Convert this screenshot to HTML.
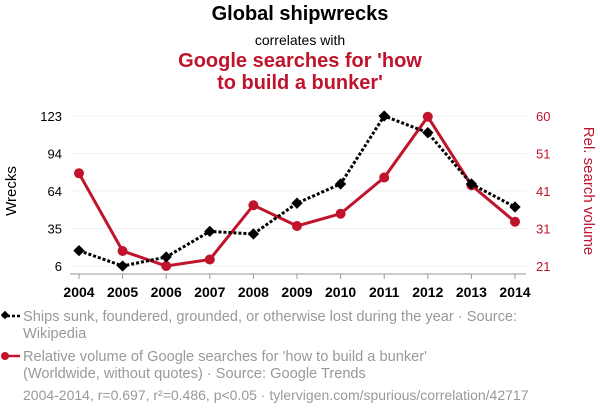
<!DOCTYPE html>
<html><head><meta charset="utf-8"><style>
body{margin:0;width:600px;height:414px;background:#fff;font-family:"Liberation Sans",sans-serif;overflow:hidden}
</style></head><body>
<svg width="600" height="414" xmlns="http://www.w3.org/2000/svg" font-family="Liberation Sans, sans-serif">
<text x="300" y="20" text-anchor="middle" font-size="20" font-weight="bold" fill="#000">Global shipwrecks</text>
<text x="300" y="45" text-anchor="middle" font-size="14" fill="#000">correlates with</text>
<text x="300" y="67" text-anchor="middle" font-size="20" font-weight="bold" fill="#c0142c">Google searches for 'how</text>
<text x="300" y="89" text-anchor="middle" font-size="20" font-weight="bold" fill="#c0142c">to build a bunker'</text>
<g id="plot"></g>
<g font-size="14.6" fill="#999">
<line x1="2" y1="316" x2="20" y2="316" stroke="#000" stroke-width="2.5" stroke-dasharray="3,2"/>
<rect x="2" y="312" width="6" height="6" transform="rotate(45 5 315)" fill="#000"/>
<text x="23" y="321">Ships sunk, foundered, grounded, or otherwise lost during the year · Source:</text>
<text x="23" y="338">Wikipedia</text>
<line x1="2" y1="356" x2="20" y2="356" stroke="#c0142c" stroke-width="2.5"/>
<circle cx="5" cy="356" r="4" fill="#c0142c"/>
<text x="23" y="361">Relative volume of Google searches for 'how to build a bunker'</text>
<text x="23" y="378">(Worldwide, without quotes) · Source: Google Trends</text>
<text x="23" y="400" font-size="14">2004-2014, r=0.697, r²=0.486, p&lt;0.05 · tylervigen.com/spurious/correlation/42717</text>
</g>
</svg>
<script>
const years=[2004,2005,2006,2007,2008,2009,2010,2011,2012,2013,2014];
const wrecks=[18,6,13,33,31,55,70,123,110,70,52];
const searches=[45.1,24.9,21,22.7,36.8,31.4,34.6,44,59.8,42,32.5];
const leftTicks=[6,35,64,94,123];
const rightTicks=[21,31,41,51,60];
const NS="http://www.w3.org/2000/svg";
const g=document.getElementById('plot');
const x0=79,x1=515,yTop=116,yBot=266;
const xs=i=>x0+(x1-x0)*i/(years.length-1);
const yl=v=>yBot-(v-6)/(123-6)*(yBot-yTop);
const yr=v=>yBot-(v-21)/(60-21)*(yBot-yTop);
function el(t,a,p){const e=document.createElementNS(NS,t);for(const k in a)e.setAttribute(k,a[k]);(p||g).appendChild(e);return e;}
leftTicks.forEach((t,i)=>{const y=yBot-(yBot-yTop)*i/(leftTicks.length-1);
 const l=el('line',{x1:70,x2:526,y1:y,y2:y,stroke:'#f0f0f0'});
 
 
 const tx=el('text',{x:62,y:y+5,'text-anchor':'end','font-size':13,fill:'#000'});tx.textContent=t;
 
 
 const r=el('text',{x:536,y:y+5,'font-size':13,fill:'#c0142c'});r.textContent=rightTicks[i];
 
 
});
const ax=el('line',{x1:70,x2:526,y1:274,y2:274,stroke:'#999'});


years.forEach((yv,i)=>{
 el('line',{x1:xs(i),x2:xs(i),y1:274,y2:279,stroke:'#999'});
 const t=el('text',{x:xs(i),y:297,'text-anchor':'middle','font-size':14,'font-weight':'bold',fill:'#000'});t.textContent=yv;
 
 
});
const yt=el('text',{x:16,y:191,'text-anchor':'middle','font-size':15,fill:'#000',transform:'rotate(-90 16 191)'});yt.textContent='Wrecks';


const yt2=el('text',{x:584,y:191,'text-anchor':'middle','font-size':15,fill:'#c0142c',transform:'rotate(90 584 191)'});yt2.textContent='Rel. search volume';


const rl=el('polyline',{points:searches.map((v,i)=>xs(i)+','+yr(v)).join(' '),fill:'none',stroke:'#c0142c','stroke-width':3});


searches.forEach((v,i)=>{const c=el('circle',{cx:xs(i),cy:yr(v),r:5,fill:'#c0142c'});
 
 });
const bl=el('polyline',{points:wrecks.map((v,i)=>xs(i)+','+yl(v)).join(' '),fill:'none',stroke:'#000','stroke-width':3,'stroke-dasharray':'3,2'});


wrecks.forEach((v,i)=>{const r=el('rect',{x:xs(i)-4,y:yl(v)-4,width:8,height:8,fill:'#000',transform:`rotate(45 ${xs(i)} ${yl(v)})`});
 
 });
</script>
</body></html>
